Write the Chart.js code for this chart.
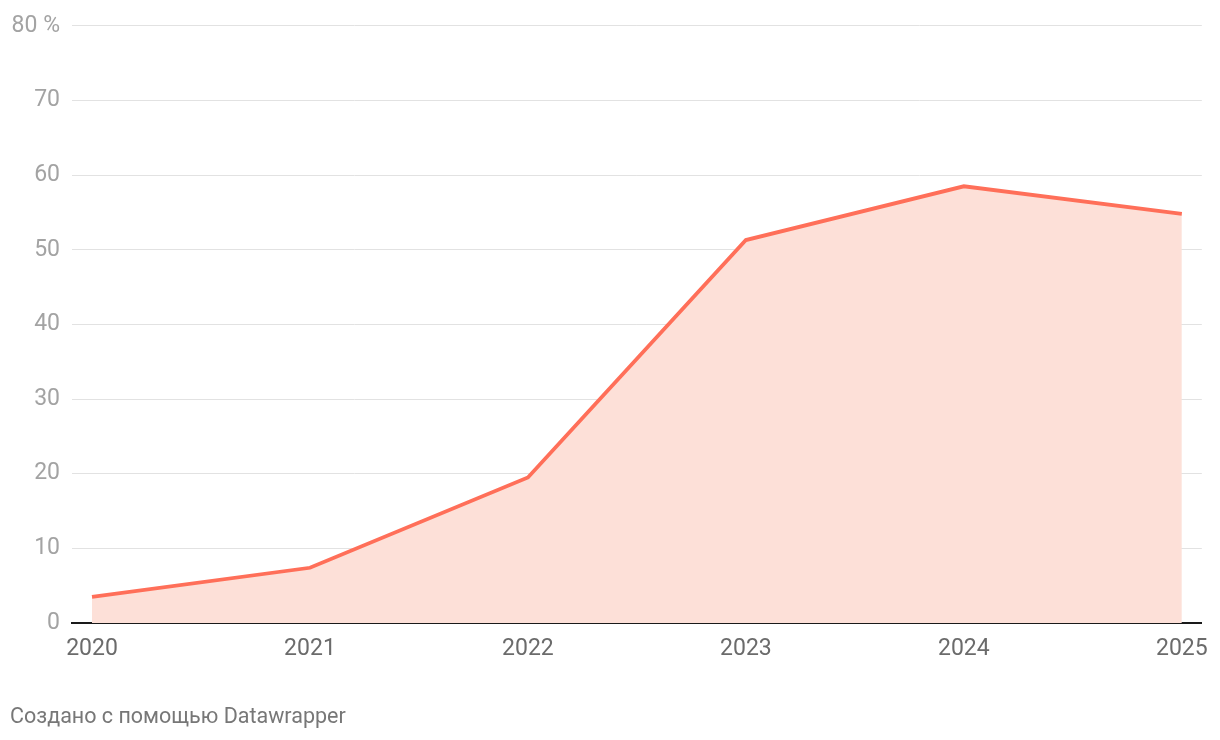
<!DOCTYPE html>
<html>
<head>
<meta charset="utf-8">
<script src="https://cdn.jsdelivr.net/npm/chart.js@4"></script>
<style>
  html, body { margin: 0; padding: 0; background: #fff; }
  #wrap { position: relative; width: 1220px; height: 740px; }
  #footer { position: absolute; left: 10px; top: 703px; font-family: Roboto, sans-serif; font-size: 21.5px; color: #777; white-space: nowrap; }
</style>
</head>
<body>
<div id="wrap">
  <canvas id="c" width="1220" height="740"></canvas>
  <div id="footer">Создано с помощью Datawrapper</div>
</div>
<script>
const years = [2020, 2021, 2022, 2023, 2024, 2025];
const values = [3.5, 7.4, 19.5, 51.3, 58.5, 54.8];
const yTicks = [0, 10, 20, 30, 40, 50, 60, 70, 80];
const yTopLabel = '80 %';

const ctx = document.getElementById('c').getContext('2d');
new Chart(ctx, {
  type: 'line',
  data: {
    datasets: [{
      data: years.map((y, i) => ({ x: y, y: values[i] })),
      borderColor: '#ff6f59',
      backgroundColor: '#fde0d8',
      borderWidth: 3.8,
      fill: 'origin',
      pointRadius: 0,
      pointHoverRadius: 0,
      tension: 0,
      borderCapStyle: 'butt',
      borderJoinStyle: 'miter'
    }]
  },
  options: {
    responsive: false,
    animation: false,
    events: [],
    layout: { padding: { top: 22, right: 18, bottom: 67, left: 0 } },
    plugins: { legend: { display: false }, tooltip: { enabled: false } },
    scales: {
      x: {
        type: 'linear',
        min: 2020 - 20 / 218,
        max: 2025 + 20 / 218,
        afterBuildTicks: (s) => { s.ticks = years.map(v => ({ value: v })); },
        afterFit: (s) => { s.height = 50; },
        grid: { display: false, drawTicks: false },
        border: { display: true, color: '#1a1a1a', width: 2 },
        ticks: {
          color: '#6b6b6b',
          font: { family: 'Roboto', size: 23 },
          padding: 12,
          maxRotation: 0,
          autoSkip: false,
          callback: (v) => String(v)
        }
      },
      y: {
        min: 0,
        max: 80,
        afterBuildTicks: (s) => { s.ticks = yTicks.map(v => ({ value: v })); },
        afterFit: (s) => { s.width = 72; },
        grid: {
          drawTicks: false,
          color: (c) => c.tick && c.tick.value === 0 ? 'rgba(0,0,0,0)' : '#e2e2e2',
          lineWidth: 1
        },
        border: { display: false },
        ticks: {
          color: '#a3a3a3',
          font: { family: 'Roboto', size: 23 },
          padding: 12,
          callback: (v) => v === 80 ? yTopLabel : String(v)
        }
      }
    }
  }
});
</script>
</body>
</html>
